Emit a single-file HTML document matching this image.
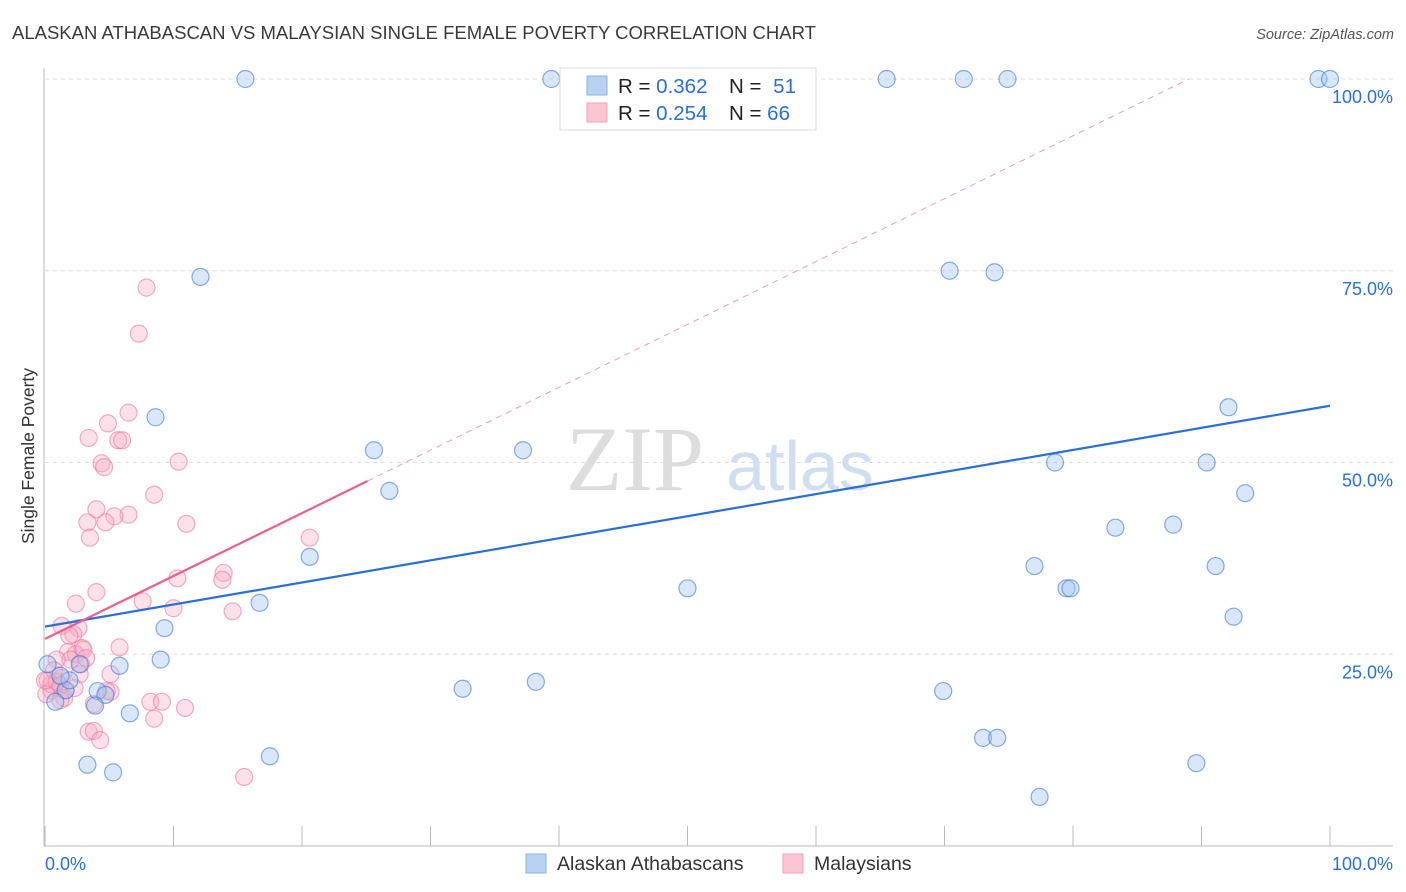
<!DOCTYPE html>
<html><head><meta charset="utf-8"><style>
body{margin:0;background:#fff;font-family:"Liberation Sans",sans-serif;}
svg{display:block}
</style></head><body>
<svg id="chart" width="1406" height="892">
<text x="12" y="39" font-size="18.5" fill="#3a3a3a">ALASKAN ATHABASCAN VS MALAYSIAN SINGLE FEMALE POVERTY CORRELATION CHART</text>
<text x="1394" y="39" font-size="14.5" fill="#555" font-style="italic" text-anchor="end">Source: ZipAtlas.com</text>
<text x="34" y="456" font-size="17.5" fill="#333" text-anchor="middle" transform="rotate(-90 34 456)">Single Female Poverty</text>
<text x="635" y="490" font-size="92" fill="#ddd" font-family="Liberation Serif,serif" text-anchor="middle">ZIP</text>
<text x="800" y="490" font-size="70" fill="#d0def2" text-anchor="middle">atlas</text>
<g id="grid"></g><g id="marks"></g><g id="lines"></g>
<g>
<rect x="560" y="68" width="256" height="62" fill="#fff" stroke="#ddd"/>
<rect x="587" y="76" width="20" height="19" fill="#b8d2f4" stroke="#8ab0e6"/>
<rect x="587" y="103" width="20" height="19" fill="#fbc5d3" stroke="#f4a0b8"/>
<text x="618" y="93" font-size="20.5" fill="#222">R = <tspan fill="#2a6fd6">0.362</tspan></text>
<text x="729" y="93" font-size="20.5" fill="#222">N = <tspan fill="#2a6fd6" dx="6">51</tspan></text>
<text x="618" y="120" font-size="20.5" fill="#222">R = <tspan fill="#2a6fd6">0.254</tspan></text>
<text x="729" y="120" font-size="20.5" fill="#222">N = <tspan fill="#2a6fd6">66</tspan></text>
</g>
<g>
<rect x="526" y="854" width="20" height="19" fill="#b8d2f4" stroke="#8ab0e6"/>
<text x="557" y="870" font-size="19.5" fill="#333">Alaskan Athabascans</text>
<rect x="783" y="854" width="20" height="19" fill="#fbc5d3" stroke="#f4a0b8"/>
<text x="814" y="870" font-size="19.5" fill="#333">Malaysians</text>
</g>
<text x="45" y="870" font-size="18" fill="#2a6fd6">0.0%</text>
<text x="1393" y="870" font-size="18" fill="#2a6fd6" text-anchor="end">100.0%</text>
</svg>
<script>
const blueX=[15.6,39.4,65.5,71.5,74.9,99.1,100,12.1,70.4,73.9,8.6,25.6,37.2,26.8,92.1,78.6,90.4,93.4,83.3,87.8,20.6,77.0,91.1,50.0,79.5,79.8,16.7,92.5,9.3,9.0,5.8,2.7,0.2,32.5,38.2,69.9,4.1,4.7,1.6,0.8,3.9,6.6,73.0,74.1,17.5,3.3,5.3,89.6,77.4,1.9,1.2];
const blueY=[100,100,100,100,100,100,100,74.2,75.0,74.8,55.9,51.6,51.6,46.3,57.2,50.0,50.0,46.0,41.5,41.9,37.7,36.5,36.5,33.6,33.6,33.6,31.7,29.9,28.4,24.3,23.5,23.7,23.7,20.5,21.4,20.2,20.2,19.7,20.3,18.8,18.3,17.3,14.1,14.1,11.7,10.6,9.6,10.8,6.4,21.6,22.2];
const pinkX=[7.9,7.3,6.5,4.9,3.4,5.7,6.0,4.4,4.6,10.4,8.5,4.0,6.5,5.4,3.3,4.7,11.0,3.5,20.6,4.0,13.9,13.8,10.3,7.6,10.0,14.6,2.4,1.3,2.6,2.2,1.9,2.9,5.8,1.8,2.4,2.0,2.8,0.9,5.1,2.7,1.3,0.2,0.5,1.2,1.6,1.5,5.1,4.8,3.8,8.2,9.1,10.9,8.5,3.4,3.8,4.3,15.5,0.5,0.9,0.1,0.7,3.0,3.2,1.2,0,2.3];
const pinkY=[72.8,66.8,56.5,55.1,53.2,52.9,52.9,49.9,49.4,50.1,45.8,43.9,43.2,43.0,42.2,42.2,42.0,40.2,40.2,33.1,35.6,34.7,34.9,31.9,31.0,30.6,31.6,28.7,28.4,27.6,27.4,25.8,25.9,25.3,25.0,24.3,23.7,24.3,22.4,22.4,21.9,21.6,20.3,20.9,20.3,19.3,20.1,20.2,18.5,18.8,18.8,18.0,16.6,14.9,15.0,13.8,9.0,21.1,21.4,19.8,22.9,25.6,24.5,19.0,21.6,20.6];
const blueTrend=[28.6,57.4];
const pinkTrend=[27.0,0.82];
const yTicks=[25,50,75,100];
const xTicks=[0,10,20,30,40,50,60,70,80,90,100];
const NS='http://www.w3.org/2000/svg';
const sx=v=>45+v*12.85, sy=v=>846-v*7.67;
function mk(t,a,p){const e=document.createElementNS(NS,t);for(const k in a)e.setAttribute(k,a[k]);p.appendChild(e);return e;}
const grid=document.getElementById('grid');
yTicks.forEach(t=>{
 const l=mk('line',{x1:45,x2:1393,y1:sy(t),y2:sy(t),stroke:'#ddd','stroke-dasharray':'4,4'},grid);
 
 
 const tx=mk('text',{x:1393,y:sy(t)+24,'font-size':18,fill:'#2a6fd6','text-anchor':'end'},grid);
 tx.textContent=t.toFixed(1)+'%';
 
 
});
xTicks.forEach(t=>{
 const l=mk('line',{x1:sx(t),x2:sx(t),y1:826,y2:846,stroke:'#bbb'},grid);
 
 
});
mk('line',{x1:44,x2:44,y1:68,y2:846,stroke:'#bbb'},grid);
mk('line',{x1:44,x2:1393,y1:846,y2:846,stroke:'#bbb'},grid);
const marks=document.getElementById('marks');
pinkX.forEach((x,i)=>{
 const c=mk('circle',{cx:sx(x),cy:sy(pinkY[i]),r:8.5,fill:'rgba(248,170,195,0.35)',stroke:'rgba(236,120,160,0.6)','stroke-width':1.2},marks);
 
 
});
blueX.forEach((x,i)=>{
 const c=mk('circle',{cx:sx(x),cy:sy(blueY[i]),r:8.5,fill:'rgba(160,195,240,0.4)',stroke:'rgba(60,120,210,0.6)','stroke-width':1.2},marks);
 
 
});
const lines=document.getElementById('lines');
const bl=mk('line',{x1:sx(0),y1:sy(blueTrend[0]),x2:sx(100),y2:sy(blueTrend[1]),stroke:'#2a6fd6','stroke-width':2.2},lines);


const pf=x=>pinkTrend[0]+pinkTrend[1]*x;
const pl=mk('line',{x1:sx(0),y1:sy(pf(0)),x2:sx(25.1),y2:sy(pf(25.1)),stroke:'#e8608e','stroke-width':2.2},lines);


const xe=(100-pinkTrend[0])/pinkTrend[1];
const pd=mk('line',{x1:sx(25.1),y1:sy(pf(25.1)),x2:sx(xe),y2:sy(100),stroke:'#eaa0b8','stroke-width':1,'stroke-dasharray':'6,5'},lines);


</script>
</body></html>
